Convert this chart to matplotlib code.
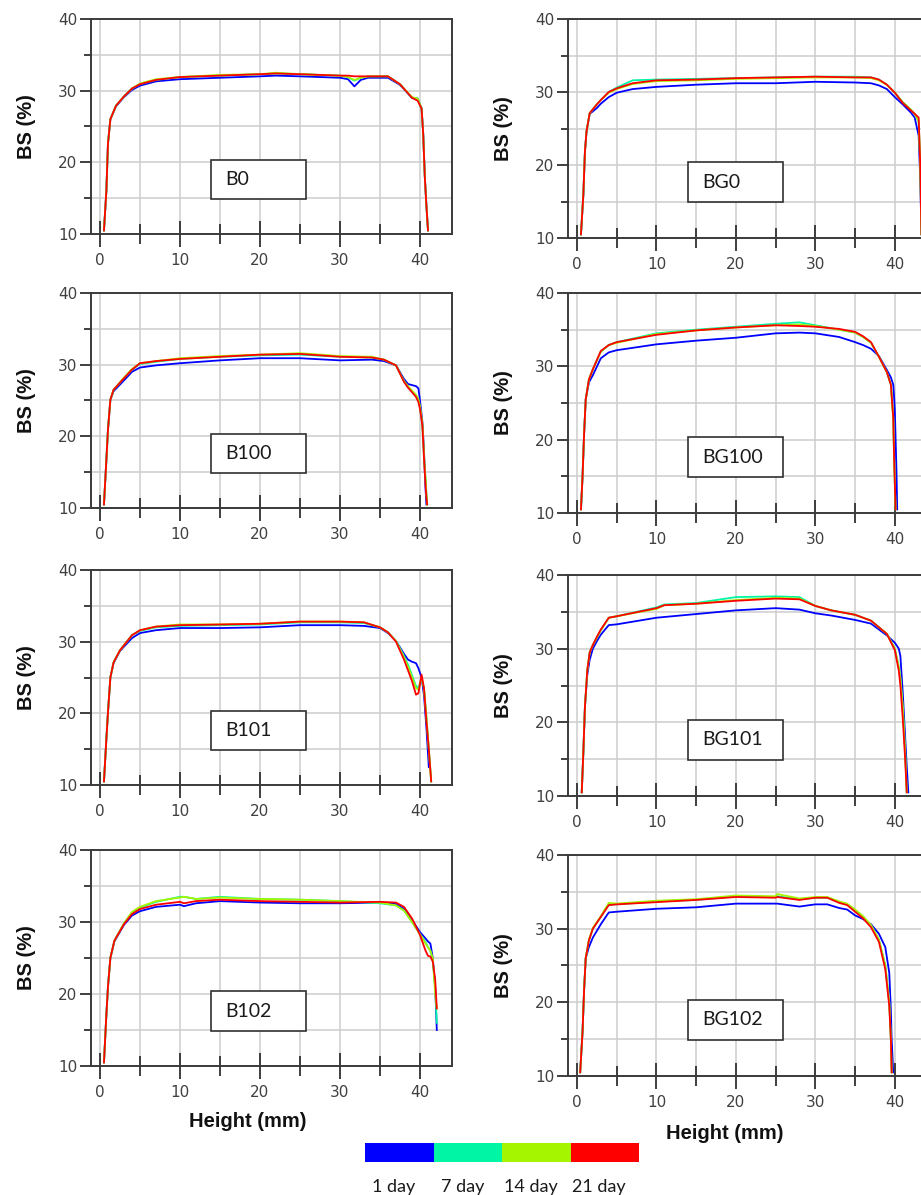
import numpy as np
import matplotlib
matplotlib.use("Agg")
import matplotlib.pyplot as plt
from matplotlib.patches import Rectangle
from matplotlib.ticker import MultipleLocator

plt.rcParams["font.family"] = ["Liberation Sans", "DejaVu Sans"]

NAN = np.nan

DAYS = ["1 day", "7 day", "14 day", "21 day"]
DAY_COLORS = ["#0000ff", "#00f5a5", "#a5f500", "#ff0000"]

# ---- B0 -------------------------------------------------------------
B0_HEIGHT = [0.5, 0.8, 1.0, 1.3, 2, 3, 4, 5, 7, 10, 15, 20, 22, 25, 30, 31, 31.8,
             32.6, 33.5, 36, 37.5, 39, 39.7, 40.2, 40.4, 40.6, 40.8, 41.0]
B0_BS = [
    [10.5, 16, 22.6, 26, 27.8, 29.1, 30.1, 30.7, 31.3, 31.6, 31.8, 32.0, 32.1, 32.0, 31.8, 31.6, 30.6,
     31.5, 31.8, 31.8, 30.8, 29.0, 28.9, 27.5, 24, 18, 14, 10.5],
    [10.5, 16, 22.6, 26, 27.9, 29.2, 30.3, 30.9, 31.5, 31.9, 32.1, 32.3, 32.4, 32.3, 32.1, 31.9, 31.4,
     31.8, 32.0, 32.0, 30.9, 29.0, 28.9, 27.5, 24, 18, 14, 10.5],
    [10.5, 16, 22.6, 26, 27.9, 29.2, 30.3, 31.0, 31.6, 31.9, 32.2, 32.3, 32.5, 32.3, 32.1, 31.9, 31.5,
     31.8, 32.0, 32.0, 30.9, 29.1, 28.9, 27.5, 24, 18, 14, 10.5],
    [10.5, 16, 22.6, 26, 27.9, 29.2, 30.3, 30.9, 31.5, 31.9, 32.1, 32.3, 32.4, 32.3, 32.1, 32.1, 32.0,
     32.0, 32.0, 32.0, 30.9, 29.0, 28.6, 27.5, 24, 18, 14, 10.5],
]

# ---- BG0 ------------------------------------------------------------
BG0_HEIGHT = [0.5, 0.8, 1.0, 1.2, 1.6, 2.5, 3, 4, 5, 7, 10, 15, 20, 25, 30, 35, 37, 38, 39,
              40, 41, 42, 42.5, 43.0, 43.2, 43.35]
BG0_BS = [
    [10.5, 15.9, 21.8, 24.6, 27.0, 27.8, 28.4, 29.3, 29.9, 30.4, 30.7, 31.0, 31.2, 31.2, 31.4, 31.3,
     31.2, 30.9, 30.4, 29.3, 28.3, 27.2, 26.5, 24.0, 18.0, 10.5],
    [10.5, 15.9, 21.8, 24.6, 27.1, 28.3, 28.9, 30.0, 30.6, 31.6, 31.7, 31.8, 31.9, 32.0, 32.1, 32.1,
     32.0, 31.7, 31.0, 29.9, 28.6, 27.6, 27.0, 26.0, 20.0, 10.5],
    [10.5, 15.9, 21.8, 24.6, 27.1, 28.3, 28.9, 29.9, 30.4, 31.1, 31.5, 31.6, 31.8, 31.9, 32.0, 32.0,
     31.9, 31.6, 31.0, 29.9, 28.6, 27.6, 27.0, 26.0, 20.0, 10.5],
    [10.5, 15.9, 21.8, 24.6, 27.1, 28.3, 28.9, 30.0, 30.5, 31.2, 31.6, 31.7, 31.9, 32.0, 32.1, 32.0,
     32.0, 31.7, 31.0, 29.9, 28.5, 27.5, 27.0, 26.5, 20.0, 10.5],
]

# ---- B100 -----------------------------------------------------------
B100_HEIGHT = [0.5, 0.8, 1.0, 1.3, 1.7, 3, 4, 5, 7, 10, 15, 20, 25, 30, 34, 35.5, 37, 38,
               38.5, 39.5, 39.8, 40, 40.3, 40.5, 40.6, 40.7, 40.8, 40.9]
B100_BS = [
    [10.5, 16.7, 20.9, 25.1, 26.3, 27.8, 29.0, 29.6, 29.9, 30.2, 30.6, 30.9, 30.9, 30.6, 30.7, 30.5,
     29.9, 28.0, 27.3, 27.0, 26.7, 25.0, 22.0, 18.0, 15.0, 12.5, 10.5, NAN],
    [10.5, 16.7, 20.9, 25.1, 26.5, 28.1, 29.3, 30.1, 30.4, 30.8, 31.1, 31.3, 31.4, 31.1, 31.0, 30.7,
     29.9, 27.7, 26.9, 25.6, 25.0, 24.0, 21.5, 17.0, 15.5, 14.0, 12.0, 10.5],
    [10.5, 16.7, 20.9, 25.1, 26.5, 28.2, 29.4, 30.2, 30.5, 30.9, 31.2, 31.4, 31.6, 31.2, 31.1, 30.7,
     29.9, 27.7, 27.0, 25.8, 25.2, 24.2, 21.8, 17.5, 15.5, 14.0, 12.0, 10.5],
    [10.5, 16.7, 20.9, 25.1, 26.5, 28.1, 29.3, 30.2, 30.5, 30.8, 31.1, 31.4, 31.5, 31.1, 31.0, 30.7,
     29.9, 27.6, 26.8, 25.5, 24.8, 23.8, 21.5, 17.0, 15.0, 13.0, 11.5, 10.5],
]

# ---- BG100 ----------------------------------------------------------
BG100_HEIGHT = [0.5, 0.7, 0.9, 1.1, 1.5, 2, 3, 4, 5, 10, 15, 20, 25, 28, 30, 33, 35, 36, 37,
                38, 39, 39.5, 39.8, 39.9, 40.0, 40.1, 40.2, 40.3]
BG100_BS = [
    [10.5, 15, 20.9, 25.5, 27.8, 28.8, 31.1, 31.9, 32.2, 33.0, 33.5, 33.9, 34.5, 34.6, 34.5, 34.0,
     33.3, 32.9, 32.4, 31.4, 29.5, 28.5, 27.5, 26.0, 24.0, 20.0, 16.0, 10.5],
    [10.5, 15, 20.9, 25.5, 28.2, 29.6, 32.0, 32.9, 33.3, 34.5, 35.0, 35.4, 35.8, 36.0, 35.6, 35.0,
     34.6, 34.0, 33.2, 31.3, 29.2, 27.5, 23.0, 18.0, 14.0, 10.5, NAN, NAN],
    [10.5, 15, 20.9, 25.5, 28.2, 29.6, 32.0, 32.9, 33.2, 34.4, 34.9, 35.3, 35.6, 35.7, 35.5, 35.0,
     34.6, 34.0, 33.2, 31.3, 29.2, 27.5, 23.0, 18.0, 14.0, 10.5, NAN, NAN],
    [10.5, 15, 20.9, 25.5, 28.2, 29.6, 32.1, 32.9, 33.3, 34.3, 34.9, 35.3, 35.6, 35.5, 35.4, 35.1,
     34.7, 34.1, 33.3, 31.3, 29.2, 27.5, 23.0, 18.0, 14.0, 10.5, NAN, NAN],
]

# ---- B101 -----------------------------------------------------------
B101_HEIGHT = [0.5, 0.8, 1.0, 1.3, 1.7, 2.5, 3, 4, 5, 7, 10, 15, 20, 25, 30, 33, 35, 36, 37,
               38, 38.5, 39, 39.5, 39.8, 40.2, 40.5, 40.8, 41.1, 41.4]
B101_BS = [
    [10.5, 16.4, 20.1, 25.0, 27.0, 28.7, 29.3, 30.5, 31.2, 31.6, 31.9, 31.9, 32.0, 32.3, 32.3, 32.2,
     31.9, 31.2, 30.1, 28.3, 27.5, 27.2, 27.0, 26.3, 25.0, 22.5, 18.0, 12.5, NAN],
    [10.5, 16.4, 20.1, 25.0, 27.1, 28.8, 29.5, 30.9, 31.5, 32.0, 32.2, 32.3, 32.4, 32.7, 32.7, 32.6,
     32.0, 31.3, 30.1, 28.0, 26.8, 25.3, 23.8, 23.6, 24.8, 23.5, 19.5, 15.0, 10.5],
    [10.5, 16.4, 20.1, 25.0, 27.1, 28.8, 29.5, 30.9, 31.6, 32.1, 32.4, 32.4, 32.5, 32.8, 32.8, 32.7,
     32.0, 31.3, 30.1, 27.8, 26.5, 25.0, 23.5, 23.3, 25.0, 23.5, 19.5, 15.0, 10.5],
    [10.5, 16.4, 20.1, 25.0, 27.1, 28.8, 29.5, 30.9, 31.6, 32.1, 32.3, 32.4, 32.5, 32.8, 32.8, 32.7,
     32.0, 31.3, 30.0, 27.5, 26.0, 24.5, 22.6, 22.8, 25.4, 23.5, 19.0, 15.0, 10.5],
]

# ---- BG101 ----------------------------------------------------------
BG101_HEIGHT = [0.6, 0.8, 1.0, 1.3, 1.6, 2, 2.5, 3, 4, 5, 10, 11, 15, 20, 25, 28, 30, 32, 35,
                37, 39, 40, 40.5, 40.7, 41.0, 41.3, 41.5, 41.7]
BG101_BS = [
    [10.5, 15.9, 22.1, 26.5, 28.5, 30.0, 31.0, 31.9, 33.2, 33.3, 34.2, 34.3, 34.7, 35.2, 35.5, 35.3,
     34.8, 34.5, 33.9, 33.4, 31.8, 30.8, 30.0, 29.0, 24.0, 18.0, 14.0, 10.5],
    [10.5, 15.9, 22.1, 27.1, 29.5, 30.5, 31.5, 32.5, 34.2, 34.4, 35.6, 36.0, 36.2, 37.0, 37.1, 37.0,
     35.8, 35.2, 34.6, 33.8, 32.0, 30.0, 27.5, 26.0, 22.0, 16.0, 10.5, NAN],
    [10.5, 15.9, 22.1, 27.1, 29.5, 30.5, 31.5, 32.5, 34.2, 34.4, 35.4, 35.9, 36.1, 36.6, 36.9, 36.8,
     35.8, 35.2, 34.6, 33.8, 32.0, 30.0, 27.5, 26.0, 22.0, 16.0, 10.5, NAN],
    [10.5, 15.9, 22.1, 27.1, 29.5, 30.5, 31.6, 32.6, 34.2, 34.4, 35.5, 35.9, 36.1, 36.5, 36.8, 36.7,
     35.8, 35.2, 34.6, 33.8, 32.0, 29.8, 27.0, 25.0, 20.5, 15.0, 10.5, NAN],
]

# ---- B102 -----------------------------------------------------------
B102_HEIGHT = [0.5, 0.8, 1.0, 1.3, 1.8, 3, 4, 5, 7, 10, 10.5, 12, 15, 20, 25, 30, 35, 37, 38,
               39, 40, 40.7, 41.0, 41.3, 41.6, 41.9, 42.1]
B102_BS = [
    [10.5, 17.1, 21.0, 25.0, 27.3, 29.6, 30.9, 31.5, 32.1, 32.4, 32.2, 32.6, 32.9, 32.7, 32.6, 32.6,
     32.7, 32.5, 31.8, 30.3, 28.6, 27.7, 27.3, 27.0, 25.0, 21.0, 15.0],
    [10.5, 17.1, 21.0, 25.0, 27.4, 29.8, 31.3, 32.0, 32.8, 33.5, 33.5, 33.2, 33.5, 33.2, 33.1, 32.9,
     32.6, 32.3, 31.6, 30.0, 28.3, 27.2, 26.5, 26.0, 24.5, 21.0, 16.0],
    [10.5, 17.1, 21.0, 25.0, 27.4, 29.8, 31.4, 32.1, 32.9, 33.4, 33.5, 33.2, 33.4, 33.2, 33.1, 32.9,
     32.7, 32.3, 31.6, 30.0, 28.3, 27.0, 26.5, 26.0, 25.0, 20.0, 18.0],
    [10.5, 17.1, 21.0, 25.0, 27.4, 29.7, 31.1, 31.8, 32.4, 32.8, 32.6, 32.9, 33.1, 32.9, 32.8, 32.7,
     32.8, 32.7, 32.1, 30.5, 28.2, 26.0, 25.3, 25.2, 24.5, 22.0, 18.0],
]

# ---- BG102 ----------------------------------------------------------
BG102_HEIGHT = [0.4, 0.7, 0.9, 1.1, 1.5, 2, 3, 4, 5, 10, 15, 20, 25, 25.2, 28, 30, 31.5, 33,
                34, 35, 36, 37, 38, 38.8, 39.3, 39.5, 39.6, 39.8]
BG102_BS = [
    [10.5, 16.0, 21.8, 26.0, 27.5, 28.8, 30.6, 32.2, 32.3, 32.7, 32.9, 33.4, 33.4, 33.4, 33.0, 33.3,
     33.3, 32.8, 32.6, 31.8, 31.3, 30.6, 29.3, 27.5, 24.0, 19.0, 15.0, 10.5],
    [10.5, 16.0, 21.8, 26.0, 28.4, 30.0, 31.6, 33.3, 33.3, 33.7, 33.9, 34.4, 34.3, 34.4, 34.0, 34.2,
     34.2, 33.6, 33.3, 32.5, 31.6, 30.4, 28.5, 25.0, 20.0, 15.0, 10.5, NAN],
    [10.5, 16.0, 21.8, 26.0, 28.5, 30.1, 31.7, 33.5, 33.4, 33.8, 34.0, 34.5, 34.4, 34.7, 34.1, 34.3,
     34.3, 33.7, 33.4, 32.6, 31.7, 30.5, 28.5, 25.0, 20.0, 15.0, 10.5, NAN],
    [10.5, 16.0, 21.8, 26.0, 28.4, 30.0, 31.6, 33.2, 33.3, 33.6, 33.9, 34.3, 34.2, 34.3, 33.9, 34.2,
     34.2, 33.5, 33.2, 32.3, 31.4, 30.2, 28.2, 24.5, 19.5, 15.0, 10.5, NAN],
]

FIG_W, FIG_H = 921, 1195
AX_W = 361

# (sample name, height, bs curves, left px, top px, bottom px, xlim, xlabel?)
PANELS = [
    ("B0", B0_HEIGHT, B0_BS, 91, 19, 234, (-1.12, 44.0), False),
    ("BG0", BG0_HEIGHT, BG0_BS, 568, 19, 238, (-1.13, 44.3), False),
    ("B100", B100_HEIGHT, B100_BS, 91, 293, 508, (-1.12, 44.0), False),
    ("BG100", BG100_HEIGHT, BG100_BS, 568, 293, 513, (-1.13, 44.3), False),
    ("B101", B101_HEIGHT, B101_BS, 91, 570, 785, (-1.12, 44.0), False),
    ("BG101", BG101_HEIGHT, BG101_BS, 568, 575, 796, (-1.13, 44.3), False),
    ("B102", B102_HEIGHT, B102_BS, 91, 850, 1066, (-1.12, 44.0), True),
    ("BG102", BG102_HEIGHT, BG102_BS, 568, 855, 1076, (-1.13, 44.3), True),
]

fig = plt.figure(figsize=(FIG_W / 100, FIG_H / 100), dpi=100)

for name, height, curves, left, top, bottom, xlim, show_xlabel in PANELS:
    rect = [left / FIG_W, 1 - bottom / FIG_H, AX_W / FIG_W, (bottom - top) / FIG_H]
    ax = fig.add_axes(rect)
    for bs, color in zip(curves, DAY_COLORS):
        ax.plot(height, np.array(bs, dtype=float), color=color, lw=1.3,
                solid_joinstyle="round", zorder=3)

    ax.set_xlim(*xlim)
    ax.set_ylim(10, 40)
    ax.xaxis.set_major_locator(MultipleLocator(10))
    ax.xaxis.set_minor_locator(MultipleLocator(5))
    ax.yaxis.set_major_locator(MultipleLocator(10))
    ax.yaxis.set_minor_locator(MultipleLocator(5))
    ax.grid(which="both", color="#cdcdcd", lw=1.1)
    ax.set_axisbelow(True)

    ax.tick_params(axis="x", which="major", direction="inout", length=19, width=1.3,
                   color="#303030", pad=4, labelsize=11, labelcolor="#404040",
                   labelfontfamily="DejaVu Sans")
    ax.tick_params(axis="x", which="minor", direction="inout", length=15, width=1.3,
                   color="#303030")
    ax.tick_params(axis="y", which="major", direction="out", length=8, width=1.3,
                   color="#303030", pad=2, labelsize=11, labelcolor="#404040",
                   labelfontfamily="DejaVu Sans")
    ax.tick_params(axis="y", which="minor", direction="out", length=5, width=1.3,
                   color="#303030")
    for sp in ax.spines.values():
        sp.set_color("#3a3a3a")
        sp.set_linewidth(1.4)

    ax.set_ylabel("BS (%)", fontsize=14.5, fontweight="bold", color="#111111")
    ax.yaxis.set_label_coords(-0.152, 0.5)
    if show_xlabel:
        ax.set_xlabel("Height (mm)", fontsize=14.5, fontweight="bold", color="#111111")
        ax.xaxis.set_label_coords(0.433, -0.215)

    # sample name box
    ax.add_patch(Rectangle((0.333, 0.163), 0.262, 0.182, transform=ax.transAxes,
                           facecolor="white", edgecolor="#303030", lw=1.2, zorder=5))
    ax.text(0.372, 0.254, name, transform=ax.transAxes, ha="left", va="center",
            fontsize=14, family="Lato", color="#1a1a1a", zorder=6)

# colour legend
lax = fig.add_axes([365 / FIG_W, 1 - 1162 / FIG_H, 274 / FIG_W, 19 / FIG_H])
lax.barh([0] * len(DAYS), [1] * len(DAYS), left=range(len(DAYS)), height=1,
         color=DAY_COLORS, edgecolor="none")
lax.set_xlim(0, len(DAYS))
lax.set_ylim(-0.5, 0.5)
lax.axis("off")
for i, label in enumerate(DAYS):
    lax.text(i + 0.42, -1.8, label, ha="center", va="center", fontsize=13,
             family="Lato", color="#1a1a1a", clip_on=False)

fig.savefig("out.png", dpi=100)
